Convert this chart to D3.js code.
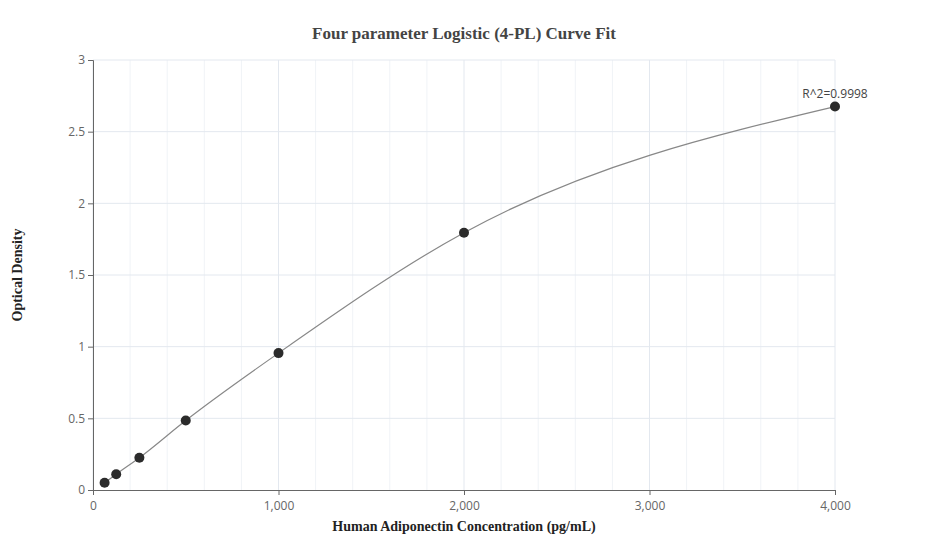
<!DOCTYPE html>
<html><head><meta charset="utf-8">
<script src="https://cdn.jsdelivr.net/npm/d3@7"></script>
<style>body{margin:0;background:#fff}</style></head>
<body><svg id="c" width="927" height="560"></svg>
<script>
const concentrations = [62.5, 125, 250, 500, 1000, 2000, 4000];
const odValues = [0.05, 0.11, 0.225, 0.485, 0.955, 1.795, 2.675];
const xTicks = [0, 1000, 2000, 3000, 4000];
const yTicks = [0, 0.5, 1, 1.5, 2, 2.5, 3];
const minorX = d3.range(0, 4001, 200);

const svg = d3.select("#c");
const x = d3.scaleLinear().domain([0, 4000]).range([93, 835]);
const y = d3.scaleLinear().domain([0, 3]).range([490, 60]);

svg.append("g").selectAll("line").data(minorX).join("line")
  .attr("x1", d => x(d)).attr("x2", d => x(d)).attr("y1", 60).attr("y2", 490)
  .attr("stroke", d => d % 1000 === 0 ? "#e3e8ef" : "#f0f3f7");
svg.append("g").selectAll("line").data(yTicks.slice(1)).join("line")
  .attr("x1", 93).attr("x2", 835).attr("y1", d => y(d)).attr("y2", d => y(d))
  .attr("stroke", "#e3e8ef");

const xa = svg.append("g").attr("transform", "translate(0,490)")
  .call(d3.axisBottom(x).tickValues(xTicks).tickFormat(d3.format(",")).tickSize(5));
const ya = svg.append("g").attr("transform", "translate(93,0)")
  .call(d3.axisLeft(y).tickValues(yTicks).tickFormat(d => d).tickSize(5));
[xa, ya].forEach(a => {
  a.selectAll("path,line").attr("stroke", "#666");
  a.selectAll("text").attr("fill", "#666").style("font-family", "Open Sans, sans-serif").style("font-size", "12px");
});
xa.selectAll("text").attr("dy", "1em");

const pts = concentrations.map((c, i) => [c, odValues[i]]);
svg.append("path").datum(pts)
  .attr("d", d3.line().x(d => x(d[0])).y(d => y(d[1])).curve(d3.curveMonotoneX))
  .attr("fill", "none").attr("stroke", "#888").attr("stroke-width", 1.2);
svg.append("g").selectAll("circle").data(pts).join("circle")
  .attr("cx", d => x(d[0])).attr("cy", d => y(d[1])).attr("r", 5).attr("fill", "#2b2b2b");

svg.append("text").attr("x", x(4000)).attr("y", y(2.675) - 9).attr("text-anchor", "middle")
  .style("font-family", "Open Sans, sans-serif").style("font-size", "12px").attr("fill", "#444").text("R^2=0.9998");

svg.append("text").attr("x", 464).attr("y", 39).attr("text-anchor", "middle")
  .style("font-family", "Liberation Serif, serif").style("font-size", "17px").style("font-weight", "bold").attr("fill", "#444")
  .text("Four parameter Logistic (4-PL) Curve Fit");
svg.append("text").attr("x", 464).attr("y", 531).attr("text-anchor", "middle")
  .style("font-family", "Liberation Serif, serif").style("font-size", "14px").style("font-weight", "bold").attr("fill", "#222")
  .text("Human Adiponectin Concentration (pg/mL)");
svg.append("text").attr("transform", "translate(22,275) rotate(-90)").attr("text-anchor", "middle")
  .style("font-family", "Liberation Serif, serif").style("font-size", "14px").style("font-weight", "bold").attr("fill", "#222")
  .text("Optical Density");
</script></body></html>
